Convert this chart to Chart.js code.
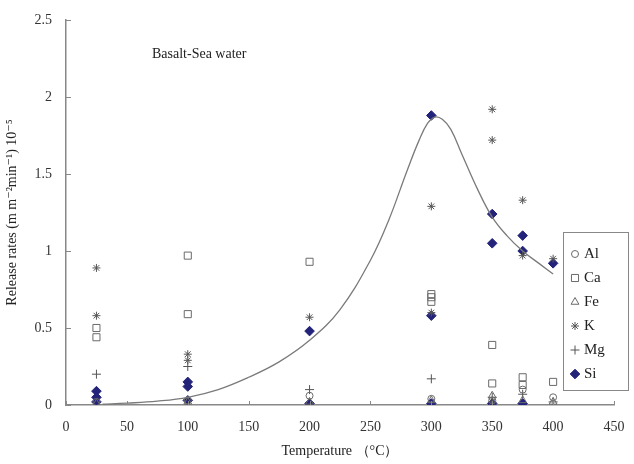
<!DOCTYPE html>
<html>
<head>
<meta charset="utf-8">
<script src="https://cdn.jsdelivr.net/npm/chart.js@4/dist/chart.umd.min.js"></script>
<style>
  html, body { margin: 0; padding: 0; background: #fff; }
  #wrap { width: 634px; height: 464px; }
</style>
</head>
<body>
<div id="wrap"><canvas id="chart" width="634" height="464"></canvas></div>
<script>
// ---- data (x = temperature °C, y = release rate ×10^-5) ----
const alPoints = [[25, 0.02], [100, 0.03], [200, 0.06], [300, 0.04], [350, 0.03], [375, 0.10], [400, 0.05]];
const caPoints = [[25, 0.50], [25, 0.44], [100, 0.97], [100, 0.59], [200, 0.93], [300, 0.72], [300, 0.70], [300, 0.67],
                  [350, 0.39], [350, 0.14], [375, 0.18], [375, 0.13], [400, 0.15]];
const fePoints = [[25, 0.01], [100, 0.02], [200, 0.02], [300, 0.03], [350, 0.06], [375, 0.03], [400, 0.02]];
const kPoints  = [[25, 0.89], [25, 0.58], [100, 0.33], [100, 0.29], [200, 0.57], [300, 1.29], [300, 0.60],
                  [350, 1.92], [350, 1.72], [350, 0.02], [375, 1.33], [375, 0.97], [400, 0.95]];
const mgPoints = [[25, 0.20], [100, 0.25], [200, 0.10], [300, 0.17], [350, 0.05], [375, 0.07], [400, 0.02]];
const siPoints = [[25, 0.09], [25, 0.05], [25, 0.02], [100, 0.15], [100, 0.12], [100, 0.03], [200, 0.48], [200, 0.01],
                  [300, 1.88], [300, 0.58], [300, 0.01], [350, 1.24], [350, 1.05], [350, 0.01],
                  [375, 1.10], [375, 1.00], [375, 0.01], [400, 0.92]];
// fitted curve, traced
const fitCurve = [[30, 0.005], [50, 0.012], [75, 0.025], [100, 0.05], [125, 0.10], [150, 0.18], [175, 0.28],
                  [200, 0.42], [225, 0.62], [250, 0.94], [265, 1.20], [280, 1.52], [290, 1.72], [297, 1.83],
                  [303, 1.87], [309, 1.855], [316, 1.79], [325, 1.63], [338, 1.40], [350, 1.22], [362, 1.10],
                  [375, 1.00], [390, 0.91], [400, 0.85]];

const xTicks = [0, 50, 100, 150, 200, 250, 300, 350, 400, 450];
const yTicks = [0, 0.5, 1, 1.5, 2, 2.5];
const annotationText = 'Basalt-Sea water';

const GRAY = '#6a6a6a';
const NAVY = '#23237a';
const SERIF = '"Liberation Serif", "DejaVu Serif", serif';

const toXY = arr => arr.map(([x, y]) => ({ x, y }));

function markerSet(label, pts, style, opts) {
    return Object.assign({
        type: 'scatter',
        label: label,
        data: toXY(pts),
        pointStyle: style,
        pointRadius: 3.5,
        pointBorderWidth: 1,
        borderColor: GRAY,
        backgroundColor: 'rgba(255,255,255,0)',
        showLine: false
    }, opts || {});
}

const datasets = [
    {
        type: 'line',
        label: 'fit',
        data: toXY(fitCurve),
        borderColor: '#7a7a7a',
        borderWidth: 1.3,
        pointRadius: 0,
        tension: 0.4,
        fill: false
    },
    markerSet('Al', alPoints, 'circle', { pointRadius: 3.5 }),
    markerSet('Ca', caPoints, 'rect', { pointRadius: 5 }),
    markerSet('Fe', fePoints, 'triangle', { pointRadius: 4.5 }),
    markerSet('K', kPoints, 'star', { pointRadius: 4, borderColor: '#555' }),
    markerSet('Mg', mgPoints, 'cross', { pointRadius: 4.5, borderColor: '#555' }),
    markerSet('Si', siPoints, 'rectRot', { pointRadius: 4.8, borderColor: NAVY, backgroundColor: NAVY })
];

// inward tick marks, annotation and boxed legend
const decorPlugin = {
    id: 'decor',
    afterDraw(chart) {
        const ctx = chart.ctx;
        const xs = chart.scales.x, ys = chart.scales.y;
        const area = chart.chartArea;
        ctx.save();
        ctx.strokeStyle = '#888';
        ctx.lineWidth = 1;
        xTicks.forEach(v => {
            const px = Math.round(xs.getPixelForValue(v)) + 0.5;
            ctx.beginPath();
            ctx.moveTo(px, area.bottom);
            ctx.lineTo(px, area.bottom - 4);
            ctx.stroke();
        });
        yTicks.forEach(v => {
            const py = Math.round(ys.getPixelForValue(v)) + 0.5;
            ctx.beginPath();
            ctx.moveTo(area.left, py);
            ctx.lineTo(area.left + 5, py);
            ctx.stroke();
        });

        // annotation
        ctx.fillStyle = '#222';
        ctx.font = '14px ' + SERIF;
        ctx.textBaseline = 'middle';
        ctx.fillText(annotationText, 152, 54);

        // legend box
        const bx = 563, by = 232, bw = 65, bh = 158;
        ctx.fillStyle = '#fff';
        ctx.fillRect(bx, by, bw, bh);
        ctx.strokeStyle = '#888';
        ctx.strokeRect(bx + 0.5, by + 0.5, bw, bh);
        const items = chart.data.datasets.slice(1);
        items.forEach((ds, i) => {
            const cy = by + 22 + i * 24;
            ctx.strokeStyle = ds.borderColor;
            ctx.fillStyle = ds.backgroundColor;
            ctx.lineWidth = 1;
            Chart.helpers.drawPoint(ctx, { pointStyle: ds.pointStyle, radius: ds.pointRadius, borderWidth: 1, rotation: 0 }, 575, cy);
            ctx.fillStyle = '#222';
            ctx.font = '15px ' + SERIF;
            ctx.textBaseline = 'middle';
            ctx.fillText(ds.label, 584, cy);
        });
        ctx.restore();
    }
};

new Chart(document.getElementById('chart'), {
    data: { datasets: datasets },
    options: {
        responsive: false,
        animation: false,
        layout: { padding: { left: 0, top: 20, right: 20, bottom: 0 } },
        plugins: {
            legend: { display: false },
            tooltip: { enabled: false }
        },
        scales: {
            x: {
                type: 'linear',
                min: 0, max: 450,
                afterBuildTicks: s => { s.ticks = xTicks.map(v => ({ value: v })); },
                afterFit: s => { s.height = 59; },
                grid: { display: false },
                border: { display: true, color: '#888', width: 1.5 },
                ticks: { color: '#333', font: { family: SERIF, size: 14 }, padding: 6, maxRotation: 0,
                         callback: v => String(v) },
                title: { display: true, text: 'Temperature （°C）', color: '#222', font: { family: SERIF, size: 14 }, padding: { top: 0 } }
            },
            y: {
                type: 'linear',
                min: 0, max: 2.5,
                afterBuildTicks: s => { s.ticks = yTicks.map(v => ({ value: v })); },
                afterFit: s => { s.width = 66; },
                grid: { display: false },
                border: { display: true, color: '#888', width: 1.5 },
                ticks: { color: '#333', font: { family: SERIF, size: 14 }, padding: 6,
                         callback: v => String(v) },
                title: { display: true, text: 'Release rates (m m⁻²min⁻¹) 10⁻⁵', color: '#222', font: { family: SERIF, size: 14 }, padding: { bottom: 2 } }
            }
        }
    },
    plugins: [decorPlugin]
});
</script>
</body>
</html>
